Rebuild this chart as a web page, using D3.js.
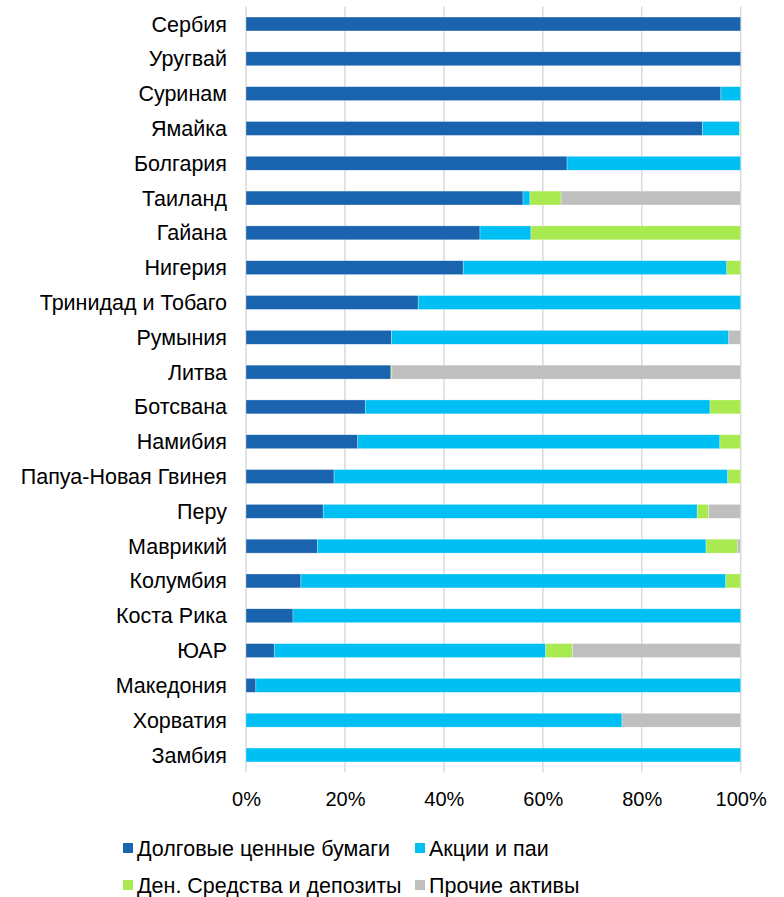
<!DOCTYPE html>
<html>
<head>
<meta charset="utf-8">
<script src="https://cdn.jsdelivr.net/npm/d3@7"></script>
<style>
  html, body { margin: 0; padding: 0; background: #fff; }
  svg { display: block; font-family: "Liberation Sans", Arial, sans-serif; }
</style>
</head>
<body>
<svg id="chart" width="784" height="897"></svg>
<script>
const categories = ["Сербия","Уругвай","Суринам","Ямайка","Болгария","Таиланд","Гайана","Нигерия","Тринидад и Тобаго","Румыния","Литва","Ботсвана","Намибия","Папуа-Новая Гвинея","Перу","Маврикий","Колумбия","Коста Рика","ЮАР","Македония","Хорватия","Замбия"];
const seriesNames = ["Долговые ценные бумаги","Акции и паи","Ден. Средства и депозиты","Прочие активы"];
const debt     = [100, 100, 96.0, 92.3, 64.9, 56.0, 47.3, 43.9, 34.8, 29.4, 29.3, 24.1, 22.6, 17.8, 15.6, 14.4, 11.1, 9.5, 5.7, 2.0, 0, 0];
const equity   = [0, 0, 4.0, 7.5, 35.1, 1.4, 10.3, 53.3, 65.2, 68.2, 0, 69.7, 73.2, 79.6, 75.6, 78.6, 85.9, 90.5, 54.9, 98.0, 76.0, 100];
const deposits = [0, 0, 0, 0.2, 0, 6.3, 42.4, 2.8, 0, 0, 0.2, 6.2, 4.2, 2.6, 2.3, 6.3, 3.0, 0, 5.4, 0, 0, 0];
const other    = [0, 0, 0, 0, 0, 36.3, 0, 0, 0, 2.4, 70.5, 0, 0, 0, 6.5, 0.7, 0, 0, 34.0, 0, 24.0, 0];
const tickValues = [0, 20, 40, 60, 80, 100];
const colors = ["#1A63AE", "#00C0F3", "#A8EA50", "#BFBFBF"];

const svg = d3.select("#chart");
const x = d3.scaleLinear().domain([0, 100]).range([246, 740.7]);
const y = d3.scaleBand().domain(categories).range([6.6, 772.4]).paddingInner(0.6).paddingOuter(0.3);

// gridlines
svg.append("g").selectAll("line").data(tickValues).join("line")
  .attr("x1", d => x(d)).attr("x2", d => x(d))
  .attr("y1", 6.6).attr("y2", 772.4)
  .attr("stroke", "#D9D9D9").attr("stroke-width", 1.5);

// stacked data
const rows = categories.map((c, i) => ({cat: c, s0: debt[i], s1: equity[i], s2: deposits[i], s3: other[i]}));
const stack = d3.stack().keys(["s0","s1","s2","s3"]);
const stacked = stack(rows);

svg.append("g").selectAll("g").data(stacked).join("g")
  .attr("fill", (d, i) => colors[i])
  .selectAll("rect").data(d => d.filter(p => p[1] - p[0] > 0)).join("rect")
  .attr("x", d => x(d[0]))
  .attr("width", d => x(d[1]) - x(d[0]))
  .attr("y", d => y(d.data.cat))
  .attr("height", y.bandwidth())
  .attr("stroke", "#ffffff").attr("stroke-width", 0.5).attr("stroke-opacity", 0.6);

// category labels
svg.append("g").selectAll("text").data(categories).join("text")
  .attr("x", 227)
  .attr("y", d => y(d) + y.bandwidth() / 2)
  .attr("dy", "0.35em")
  .attr("text-anchor", "end")
  .attr("font-size", 21.5)
  .attr("fill", "#000")
  .text(d => d);

// x axis tick labels
const xAxis = d3.axisBottom(x).tickValues(tickValues).tickFormat(d => d + "%").tickSize(0).tickPadding(0);
const gx = svg.append("g").attr("transform", "translate(0,792)").call(xAxis);
gx.select(".domain").remove();
gx.selectAll("text").attr("font-size", 20).attr("fill", "#000").attr("font-family", "Liberation Sans, Arial, sans-serif");

// legend
const legendPos = [[123, 848], [415, 848], [123, 885], [415, 885]];
const lg = svg.append("g").selectAll("g").data(seriesNames).join("g")
  .attr("transform", (d, i) => `translate(${legendPos[i][0]},${legendPos[i][1]})`);
lg.append("rect").attr("x", 0).attr("y", -5).attr("width", 10).attr("height", 10)
  .attr("fill", (d, i) => colors[i]);
lg.append("text").attr("x", 14).attr("y", 0).attr("dy", "0.35em")
  .attr("font-size", 21.5).attr("fill", "#000").text(d => d);
</script>
</body>
</html>
